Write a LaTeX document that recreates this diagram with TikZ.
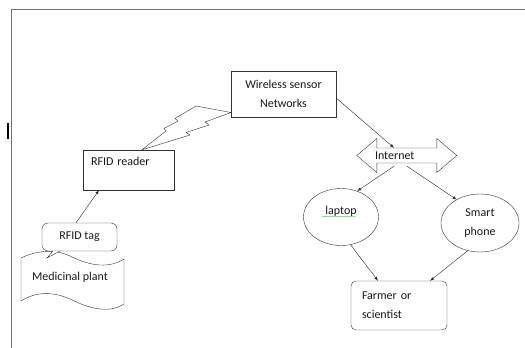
\documentclass[tikz,border=0pt]{standalone}
\usepackage{fontspec}
\setmainfont{Carlito}
\usepackage{tikz}
\usetikzlibrary{arrows,shapes,positioning,decorations.pathmorphing}

\begin{document}
\begin{tikzpicture}[x=1pt,y=-1pt]
  \tikzset{box/.style={draw=black!80,fill=white,inner sep=0pt,minimum width=#1},
    bubble/.style={draw=black!80,ellipse,inner sep=0pt,align=center},
    link/.style={-latex,draw=black!85}}
  \tikzset{every node/.style={font=\fontsize{12}{19}\selectfont,text=black!90}}
  \useasboundingbox (0,0) rectangle (525,348);

  % page edge and cursor mark
  \draw[black!55,line width=0.9pt] (525,9.3) -- (11,9.3) -- (11,348);
  \draw[line width=2pt] (8,123) -- (8,139);

  % medicinal plant (wave shape)
  \draw[black!80] (21,258) .. controls (38,250) and (55,249) .. (70,256)
    .. controls (92,267) and (110,268) .. (124,259) -- (124,304)
    .. controls (110,313) and (92,310) .. (70,299)
    .. controls (52,291) and (35,292) .. (21,301) -- cycle;
  \node (P) at (70,277) {Medicinal plant};

  \node (T) [box=75pt, minimum height=28pt, rounded corners=6pt] at (79.5,237) {RFID tag};
  \draw[black!80, fill=white] (53,251) -- (47,258) -- (60,251);
  \node (R) [box=91pt, inner sep=3pt, text width=75pt, align=left, text height=12.5pt, text depth=21.5pt] at (128.5,170) {RFID reader};
  \node (W) [box=105pt, minimum height=46pt, align=center] at (283.5,94) {Wireless sensor\\Networks};

  % lightning
  \draw[black!80, fill=white] ([xshift=13.5pt]R.north) -- (166,131) -- (164,128.5) -- (178,121)
    -- (175,118.5) -- (196,106) -- (231,112.5) -- (205,122) -- (209,125) -- (186,132.5)
    -- (190,135) -- cycle;

  \node (I) [inner xsep=18pt, inner ysep=0pt, text width=64pt, align=left, minimum height=15pt] at (407,155.5) {Internet};
  \draw[black!80] (I.west) -- ++(20,-17) -- ++(0,9.5) -- ++(60,0) -- ++(0,-9.5) -- ++(20,17)
    -- ++(-20,17) -- ++(0,-9.5) -- ++(-60,0) -- ++(0,9.5) -- cycle;

  \node (L) [bubble, minimum width=75pt, minimum height=57pt, text depth=13pt] at (341,217) {laptop};
  \draw[green!55!black!60, line width=0.3pt, decorate, decoration={snake,amplitude=0.5pt,segment length=2pt}] (322,216.5) -- (356,216.5);
  \node (S) [bubble, minimum width=78pt, minimum height=58pt] at (480,223) {Smart\\phone};
  \node (F) [box=96pt, minimum height=49pt, rounded corners=5pt, text width=74pt, align=left] at (399,305.5) {Farmer or\\scientist};

  \draw[link] (T.north) ++(-3.5,0) -- ([xshift=-29.5pt]R.south);
  \draw[link] ([yshift=-4pt]W.east) -- ([xshift=-13pt]I.north);
  \draw[link] ([xshift=-13pt, yshift=-3pt]I.south) -- (L.58);
  \draw[link] ([yshift=-3pt]I.south) -- (S.135);
  \draw[link] (L.-71) -- ([xshift=-21pt]F.north);
  \draw[link] (S.246) -- ([xshift=31pt]F.north);
\end{tikzpicture}
\end{document}
